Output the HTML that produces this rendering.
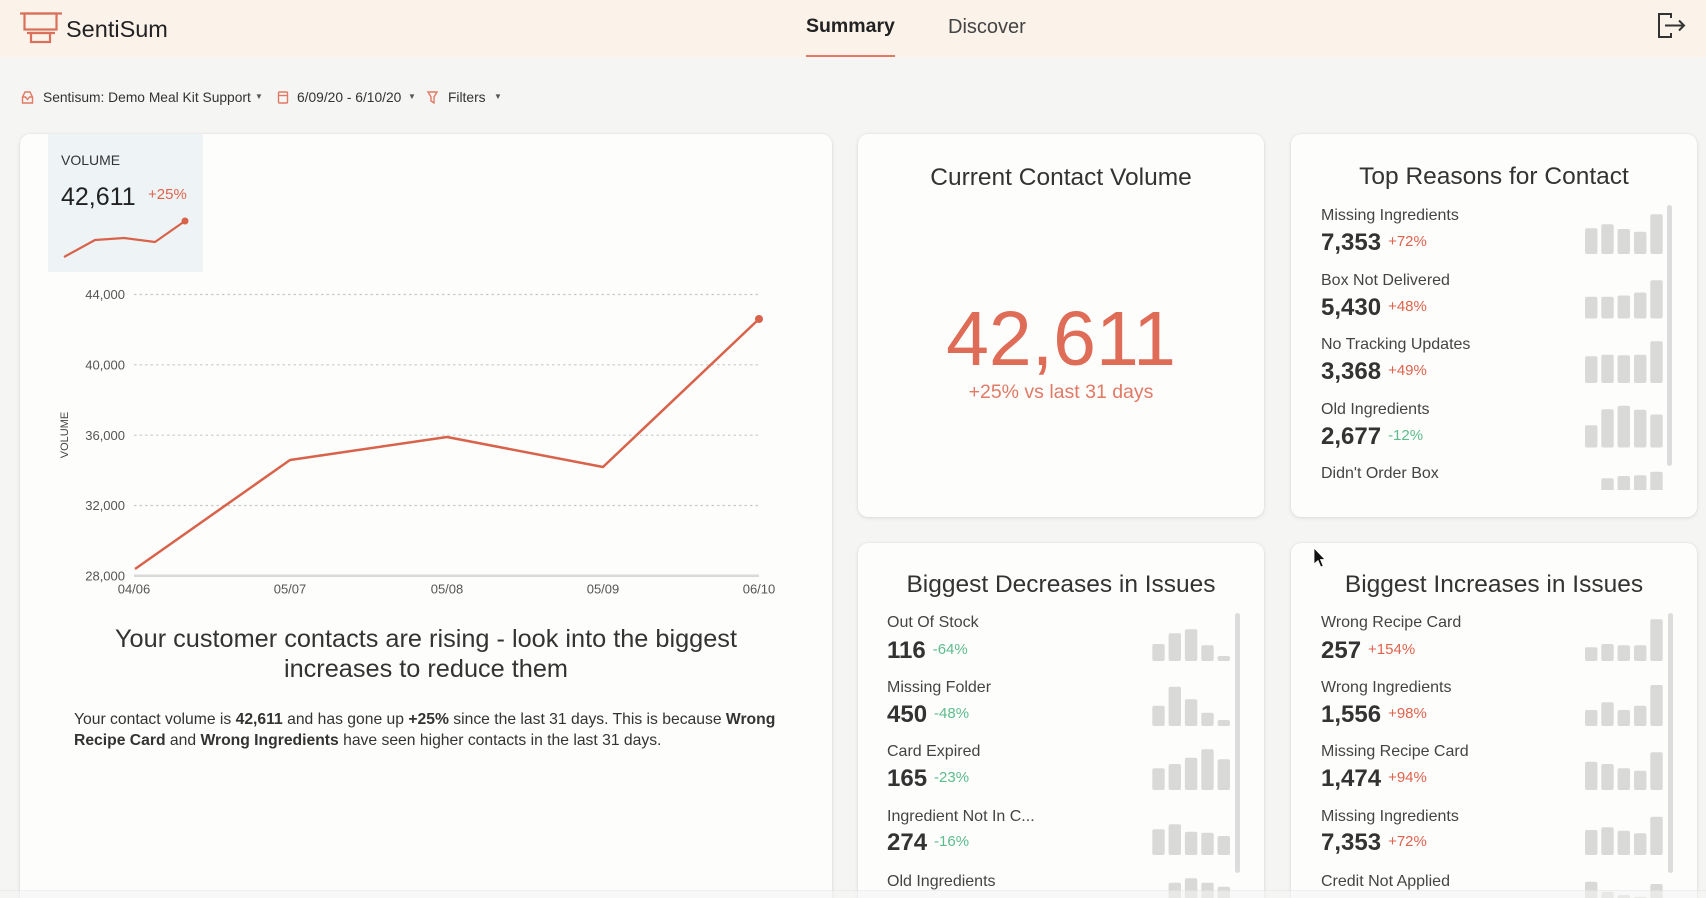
<!DOCTYPE html>
<html><head><meta charset="utf-8">
<style>
*{margin:0;padding:0;box-sizing:border-box}
html,body{width:1706px;height:898px;overflow:hidden;background:#f5f5f4;font-family:"Liberation Sans",sans-serif;color:#333}
#wrap{position:relative;width:1706px;height:898px;overflow:hidden;background:#f5f5f4}
.a{position:absolute;white-space:nowrap}
.hdr{position:absolute;left:0;top:0;width:1706px;height:57px;background:#fbf2ea}
.card{position:absolute;background:#fdfdfc;border-radius:10px;box-shadow:0 1px 4px rgba(0,0,0,0.10),0 0 1px rgba(0,0,0,0.12)}
.title{position:absolute;text-align:center;font-size:24.5px;line-height:30px;color:#333;white-space:nowrap}
.lbl{position:absolute;white-space:nowrap;font-size:16px;line-height:20px;color:#444}
.num{position:absolute;white-space:nowrap;font-size:24px;line-height:30px;font-weight:bold;color:#333}
.num span{font-size:15px;font-weight:normal;position:relative;top:-4px;margin-left:7px}
.r{color:#e0634c}.g{color:#5dbb8c}
.flt{position:absolute;white-space:nowrap;font-size:13.8px;line-height:18px;top:89px;color:#333}
.car{position:absolute;font-size:8px;line-height:10px;top:92px;color:#555}
</style></head><body>
<div id="wrap">

<div class="hdr"></div>
<svg class="a" style="left:0;top:0" width="80" height="57" viewBox="0 0 80 57">
  <g fill="none" stroke="#d9705a" stroke-width="2.2">
    <path d="M20 13.5 H62"/>
    <rect x="24.5" y="13.5" width="32" height="16"/>
    <path d="M27 33 H55"/>
    <rect x="31" y="33" width="19" height="9"/>
  </g>
</svg>
<div class="a" style="left:66px;top:15px;font-size:23.5px;line-height:28px;color:#222">SentiSum</div>
<div class="a" style="left:806px;top:14px;font-size:19.5px;line-height:24px;font-weight:bold;color:#222">Summary</div>
<div class="a" style="left:806px;top:54.5px;width:89px;height:2.5px;background:#e07a64"></div>
<div class="a" style="left:948px;top:14.5px;font-size:20px;line-height:24px;color:#444">Discover</div>
<svg class="a" style="left:1650px;top:8px" width="40" height="36" viewBox="1650 8 40 36">
  <g fill="none" stroke="#333" stroke-width="2">
    <path d="M1671 18 V14 H1659 V37 H1671 V33"/>
    <path d="M1665 25.5 H1684"/>
    <path d="M1679 20.5 L1684 25.5 L1679 30.5"/>
  </g>
</svg>

<!-- filter row -->
<svg class="a" style="left:0;top:85px" width="520" height="26" viewBox="0 85 520 26">
  <g fill="none" stroke="#e07a64" stroke-width="1.4">
    <path d="M22.5 97 L25 92 H30 L32.5 97 V103 H22.5 Z"/>
    <path d="M22.5 97 H25.5 L27.5 99.5 L29.5 97 H32.5"/>
    <rect x="278.5" y="92" width="9" height="11" rx="1"/>
    <path d="M278.5 95.5 H287.5"/>
    <path d="M428 92 H437 L434 97 V103 L431 101 V97 Z"/>
  </g>
</svg>
<div class="flt" style="left:43px">Sentisum: Demo Meal Kit Support</div>
<div class="car" style="left:255px">▼</div>
<div class="flt" style="left:297px">6/09/20 - 6/10/20</div>
<div class="car" style="left:408px">▼</div>
<div class="flt" style="left:448px">Filters</div>
<div class="car" style="left:494px">▼</div>

<!-- cards -->
<div class="card" style="left:20px;top:134px;width:812px;height:790px"></div>
<div class="card" style="left:858px;top:134px;width:406px;height:383px"></div>
<div class="card" style="left:1291px;top:134px;width:406px;height:383px"></div>
<div class="card" style="left:858px;top:543px;width:406px;height:380px"></div>
<div class="card" style="left:1291px;top:543px;width:406px;height:380px"></div>

<!-- volume tile -->
<div class="a" style="left:48px;top:134px;width:155px;height:138px;background:#eef4f6"></div>
<div class="a" style="left:61px;top:151px;font-size:14px;line-height:18px;color:#333">VOLUME</div>
<div class="a" style="left:61px;top:182.5px;font-size:25px;line-height:28px;color:#222">42,611</div>
<div class="a" style="left:148px;top:185px;font-size:15px;line-height:20px;color:#e0634c">+25%</div>

<!-- chart + bars overlay -->
<svg class="a" style="left:0;top:0" width="1706" height="898" viewBox="0 0 1706 898">
  <defs>
    <clipPath id="c3"><rect x="1291" y="190" width="406" height="300"/></clipPath>
  </defs>
  <polyline points="64,257 95,240 124,238 155,242 185,221" fill="none" stroke="#d8624a" stroke-width="2.2" stroke-linejoin="round"/>
  <circle cx="185" cy="221" r="3.5" fill="#d8624a"/>
  <g stroke="#c9c9c9" stroke-width="1.2" stroke-dasharray="2.5,3">
    <line x1="134" y1="294.5" x2="759" y2="294.5"/>
    <line x1="134" y1="364.8" x2="759" y2="364.8"/>
    <line x1="134" y1="435.2" x2="759" y2="435.2"/>
    <line x1="134" y1="505.5" x2="759" y2="505.5"/>
  </g>
  <line x1="134" y1="575.7" x2="759" y2="575.7" stroke="#d9d9d9" stroke-width="2.5"/>
  <g font-family="Liberation Sans, sans-serif" font-size="13" fill="#555" text-anchor="end">
    <text x="125" y="299.2">44,000</text>
    <text x="125" y="369.5">40,000</text>
    <text x="125" y="439.9">36,000</text>
    <text x="125" y="510.2">32,000</text>
    <text x="125" y="580.4">28,000</text>
  </g>
  <g font-family="Liberation Sans, sans-serif" font-size="13" fill="#555" text-anchor="middle">
    <text x="134" y="593.6">04/06</text>
    <text x="290" y="593.6">05/07</text>
    <text x="447" y="593.6">05/08</text>
    <text x="603" y="593.6">05/09</text>
    <text x="759" y="593.6">06/10</text>
  </g>
  <text transform="translate(68,435) rotate(-90)" text-anchor="middle" font-family="Liberation Sans, sans-serif" font-size="11" fill="#444">VOLUME</text>
  <polyline points="135,569 290,460 447,437 603,467 759,319" fill="none" stroke="#d8624a" stroke-width="2.5" stroke-linejoin="round"/>
  <circle cx="759" cy="319" r="4" fill="#d8624a"/>

  <g fill="#d9d9d7">
    <g clip-path="url(#c3)">
      <rect x="1585" y="228.3" width="12.4" height="25.7" rx="2"/>
      <rect x="1601.3" y="224.3" width="12.4" height="29.7" rx="2"/>
      <rect x="1617.6" y="229" width="12.4" height="25" rx="2"/>
      <rect x="1634" y="231.7" width="12.4" height="22.3" rx="2"/>
      <rect x="1650.3" y="214.3" width="12.4" height="39.7" rx="2"/>

      <rect x="1585" y="296.8" width="12.4" height="21.7" rx="2"/>
      <rect x="1601.3" y="296.8" width="12.4" height="21.7" rx="2"/>
      <rect x="1617.6" y="295.5" width="12.4" height="23" rx="2"/>
      <rect x="1634" y="292.5" width="12.4" height="26" rx="2"/>
      <rect x="1650.3" y="280.2" width="12.4" height="38.3" rx="2"/>

      <rect x="1585" y="356.3" width="12.4" height="26.7" rx="2"/>
      <rect x="1601.3" y="354.7" width="12.4" height="28.3" rx="2"/>
      <rect x="1617.6" y="355.3" width="12.4" height="27.7" rx="2"/>
      <rect x="1634" y="354.7" width="12.4" height="28.3" rx="2"/>
      <rect x="1650.3" y="341.3" width="12.4" height="41.7" rx="2"/>

      <rect x="1585" y="425.2" width="12.4" height="22.3" rx="2"/>
      <rect x="1601.3" y="409.2" width="12.4" height="38.3" rx="2"/>
      <rect x="1617.6" y="405.8" width="12.4" height="41.7" rx="2"/>
      <rect x="1634" y="409.8" width="12.4" height="37.7" rx="2"/>
      <rect x="1650.3" y="414.5" width="12.4" height="33" rx="2"/>

      <rect x="1601.3" y="478.3" width="12.4" height="33.7" rx="2"/>
      <rect x="1617.6" y="476" width="12.4" height="36" rx="2"/>
      <rect x="1634" y="475.3" width="12.4" height="36.7" rx="2"/>
      <rect x="1650.3" y="471.7" width="12.4" height="40.3" rx="2"/>
    </g>
    <rect x="1152.3" y="644" width="12.4" height="17" rx="2"/>
    <rect x="1168.6" y="633.3" width="12.4" height="27.7" rx="2"/>
    <rect x="1184.9" y="629.3" width="12.4" height="31.7" rx="2"/>
    <rect x="1201.3" y="645.3" width="12.4" height="15.7" rx="2"/>
    <rect x="1217.6" y="656" width="12.4" height="5" rx="2"/>

    <rect x="1152.3" y="705.7" width="12.4" height="20.3" rx="2"/>
    <rect x="1168.6" y="686.7" width="12.4" height="39.3" rx="2"/>
    <rect x="1184.9" y="699.3" width="12.4" height="26.7" rx="2"/>
    <rect x="1201.3" y="712.7" width="12.4" height="13.3" rx="2"/>
    <rect x="1217.6" y="720" width="12.4" height="6" rx="2"/>

    <rect x="1152.3" y="768.3" width="12.4" height="21.7" rx="2"/>
    <rect x="1168.6" y="764" width="12.4" height="26" rx="2"/>
    <rect x="1184.9" y="757.7" width="12.4" height="32.3" rx="2"/>
    <rect x="1201.3" y="749.3" width="12.4" height="40.7" rx="2"/>
    <rect x="1217.6" y="759.3" width="12.4" height="30.7" rx="2"/>

    <rect x="1152.3" y="829.3" width="12.4" height="25.7" rx="2"/>
    <rect x="1168.6" y="824.3" width="12.4" height="30.7" rx="2"/>
    <rect x="1184.9" y="831.7" width="12.4" height="23.3" rx="2"/>
    <rect x="1201.3" y="832.7" width="12.4" height="22.3" rx="2"/>
    <rect x="1217.6" y="836" width="12.4" height="19" rx="2"/>

    <rect x="1168.6" y="882.7" width="12.4" height="37.3" rx="2"/>
    <rect x="1184.9" y="878.3" width="12.4" height="41.7" rx="2"/>
    <rect x="1201.3" y="882.7" width="12.4" height="37.3" rx="2"/>
    <rect x="1217.6" y="886.7" width="12.4" height="33.3" rx="2"/>

    <rect x="1585" y="647.3" width="12.4" height="13.7" rx="2"/>
    <rect x="1601.3" y="644" width="12.4" height="17" rx="2"/>
    <rect x="1617.6" y="645.3" width="12.4" height="15.7" rx="2"/>
    <rect x="1634" y="645.3" width="12.4" height="15.7" rx="2"/>
    <rect x="1650.3" y="619.3" width="12.4" height="41.7" rx="2"/>

    <rect x="1585" y="710" width="12.4" height="16" rx="2"/>
    <rect x="1601.3" y="702.3" width="12.4" height="23.7" rx="2"/>
    <rect x="1617.6" y="710" width="12.4" height="16" rx="2"/>
    <rect x="1634" y="705.7" width="12.4" height="20.3" rx="2"/>
    <rect x="1650.3" y="685" width="12.4" height="41" rx="2"/>

    <rect x="1585" y="761.7" width="12.4" height="28.3" rx="2"/>
    <rect x="1601.3" y="764" width="12.4" height="26" rx="2"/>
    <rect x="1617.6" y="768.3" width="12.4" height="21.7" rx="2"/>
    <rect x="1634" y="770.7" width="12.4" height="19.3" rx="2"/>
    <rect x="1650.3" y="752.3" width="12.4" height="37.7" rx="2"/>

    <rect x="1585" y="830" width="12.4" height="25" rx="2"/>
    <rect x="1601.3" y="827.3" width="12.4" height="27.7" rx="2"/>
    <rect x="1617.6" y="830.7" width="12.4" height="24.3" rx="2"/>
    <rect x="1634" y="833.3" width="12.4" height="21.7" rx="2"/>
    <rect x="1650.3" y="816.7" width="12.4" height="38.3" rx="2"/>

    <rect x="1585" y="881.7" width="12.4" height="38.3" rx="2"/>
    <rect x="1601.3" y="891.7" width="12.4" height="28.3" rx="2"/>
    <rect x="1617.6" y="895" width="12.4" height="25" rx="2"/>
    <rect x="1634" y="896.7" width="12.4" height="23.3" rx="2"/>
    <rect x="1650.3" y="884" width="12.4" height="36" rx="2"/>
  </g>
  <g fill="#dcdcdc">
    <rect x="1667" y="205" width="5" height="261" rx="2.5"/>
    <rect x="1235" y="613" width="5" height="260" rx="2.5"/>
    <rect x="1668" y="613" width="5" height="260" rx="2.5"/>
  </g>
</svg>

<!-- card 1 text -->
<div class="a" style="left:20px;top:624px;width:812px;text-align:center;font-size:25.3px;line-height:30px;color:#333">Your customer contacts are rising - look into the biggest<br>increases to reduce them</div>
<div class="a" style="left:74px;top:708.5px;font-size:15.7px;line-height:21.5px;color:#333">Your contact volume is <b>42,611</b> and has gone up <b>+25%</b> since the last 31 days. This is because <b>Wrong</b><br><b>Recipe Card</b> and <b>Wrong Ingredients</b> have seen higher contacts in the last 31 days.</div>

<!-- card 2 -->
<div class="title" style="left:858px;width:406px;top:163px">Current Contact Volume</div>
<div class="a" style="left:858px;width:406px;top:299px;text-align:center;font-size:77px;line-height:80px;color:#df6c57">42,611</div>
<div class="a" style="left:858px;width:406px;top:380px;text-align:center;font-size:19.5px;line-height:24px;color:#e07a65">+25% vs last 31 days</div>

<!-- card 3 -->
<div class="title" style="left:1291px;width:406px;top:162px">Top Reasons for Contact</div>
<div class="lbl" style="left:1321px;top:206px">Missing Ingredients</div>
<div class="num" style="left:1321px;top:228px">7,353<span class="r">+72%</span></div>
<div class="lbl" style="left:1321px;top:270.5px">Box Not Delivered</div>
<div class="num" style="left:1321px;top:292.5px">5,430<span class="r">+48%</span></div>
<div class="lbl" style="left:1321px;top:335px">No Tracking Updates</div>
<div class="num" style="left:1321px;top:357px">3,368<span class="r">+49%</span></div>
<div class="lbl" style="left:1321px;top:399.5px">Old Ingredients</div>
<div class="num" style="left:1321px;top:421.5px">2,677<span class="g">-12%</span></div>
<div class="lbl" style="left:1321px;top:464px">Didn't Order Box</div>

<!-- card 4 -->
<div class="title" style="left:858px;width:406px;top:570px">Biggest Decreases in Issues</div>
<div class="lbl" style="left:887px;top:613px">Out Of Stock</div>
<div class="num" style="left:887px;top:636px">116<span class="g">-64%</span></div>
<div class="lbl" style="left:887px;top:678px">Missing Folder</div>
<div class="num" style="left:887px;top:700px">450<span class="g">-48%</span></div>
<div class="lbl" style="left:887px;top:742px">Card Expired</div>
<div class="num" style="left:887px;top:764px">165<span class="g">-23%</span></div>
<div class="lbl" style="left:887px;top:807px">Ingredient Not In C...</div>
<div class="num" style="left:887px;top:828px">274<span class="g">-16%</span></div>
<div class="lbl" style="left:887px;top:872px">Old Ingredients</div>

<!-- card 5 -->
<div class="title" style="left:1291px;width:406px;top:570px">Biggest Increases in Issues</div>
<div class="lbl" style="left:1321px;top:613px">Wrong Recipe Card</div>
<div class="num" style="left:1321px;top:636px">257<span class="r">+154%</span></div>
<div class="lbl" style="left:1321px;top:678px">Wrong Ingredients</div>
<div class="num" style="left:1321px;top:700px">1,556<span class="r">+98%</span></div>
<div class="lbl" style="left:1321px;top:742px">Missing Recipe Card</div>
<div class="num" style="left:1321px;top:764px">1,474<span class="r">+94%</span></div>
<div class="lbl" style="left:1321px;top:807px">Missing Ingredients</div>
<div class="num" style="left:1321px;top:828px">7,353<span class="r">+72%</span></div>
<div class="lbl" style="left:1321px;top:872px">Credit Not Applied</div>

<!-- bottom fade band -->
<div class="a" style="left:0;top:890px;width:1706px;height:8px;background:rgba(244,244,244,0.55);border-top:1px solid rgba(0,0,0,0.04)"></div>

<!-- cursor -->
<svg class="a" style="left:1310px;top:545px" width="20" height="26" viewBox="1310 545 20 26">
  <path d="M1314 548 L1314 564 L1318 560.5 L1320.8 567 L1323.2 566 L1320.5 559.5 L1325 559.5 Z" fill="#111" stroke="#fff" stroke-width="0.8"/>
</svg>
</div>
</body></html>
